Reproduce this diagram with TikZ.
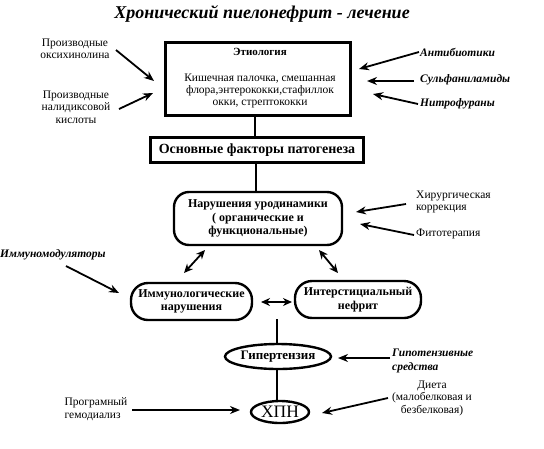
\documentclass[tikz,border=0pt]{standalone}
\usepackage{fontspec}
\setmainfont{Liberation Serif}
\usetikzlibrary{arrows.meta,shapes.geometric}
\begin{document}
\begin{tikzpicture}[x=1pt,y=-1pt,
  txt/.style={font=\fontsize{11.5}{12.5}\selectfont, align=center, inner sep=0pt},
  btxt/.style={font=\bfseries\itshape\fontsize{11.5}{13.5}\selectfont, align=left, inner sep=0pt},
  sqbox/.style={draw, align=center},
  rbox/.style={draw, line width=2.4pt, rounded corners=15pt, align=center, inner sep=0pt, font=\bfseries\fontsize{12}{13.5}\selectfont},
  ell/.style={draw, ellipse, line width=2.4pt, inner sep=0pt},
  arr/.style={line width=1.8pt, -{Stealth[length=10pt,width=8pt]}},
  darr/.style={line width=1.8pt, {Stealth[length=9pt,width=8pt]}-{Stealth[length=9pt,width=8pt]}},
  ln/.style={line width=2pt}]
\useasboundingbox (0,0) rectangle (544,448);
% title
\node[font=\bfseries\itshape\fontsize{18}{20}\selectfont] (title) at (262,14) {Хронический пиелонефрит - лечение};
% etiology box
\node[sqbox, line width=3pt, minimum width=185pt, minimum height=73pt] (etio) at (258,79) {};
\node[font=\bfseries\fontsize{11}{13}\selectfont] (etioh) at (260,52) {Этиология};
\node[txt, font=\fontsize{11.5}{12}\selectfont] (etiob) at (260,91) {Кишечная палочка, смешанная\\флора,энтерококки,стафиллок\\окки, стрептококки};
% factors
\node[sqbox, line width=2.6pt, minimum width=213pt, minimum height=25pt, font=\bfseries\fontsize{14}{16}\selectfont, inner sep=0pt] (fact) at (257,150) {Основные факторы патогенеза};
\coordinate (l1a) at (255,117);
\coordinate (l1b) at (255,136);
\draw[ln] (l1a) -- (l1b);
% urodynamics
\node[rbox, minimum width=168pt, minimum height=53pt] (uro) at (258,218.5) {Нарушения уродинамики\\( органические и\\функциональные)};
\coordinate (l2a) at (256,164);
\coordinate (l2b) at (256,191);
\draw[ln] (l2a) -- (l2b);
% immunologic, interstitial
\node[rbox, rounded corners=17pt, minimum width=121pt, minimum height=37pt] (imm) at (191.5,301.5) {Иммунологические\\нарушения};
\node[rbox, rounded corners=17pt, minimum width=126pt, minimum height=37pt] (int) at (358,299.5) {Интерстициальный\\нефрит};
\coordinate (ua1) at (205,250);
\coordinate (ua2) at (184,273);
\coordinate (ub1) at (319,250);
\coordinate (ub2) at (338,273);
\draw[darr] (ua1) -- (ua2);
\draw[darr] (ub1) -- (ub2);
\coordinate (ha) at (261,302);
\coordinate (hb) at (292,302);
\draw[darr] (ha) -- (hb);
% hypertension
\node[ell, minimum width=89pt, minimum height=25pt, font=\bfseries\fontsize{13}{14}\selectfont] (hyp) at (278,356.5) {Гипертензия};
\coordinate (vt) at (277,319);
\draw[ln] (vt) -- (vt |- hyp.north);
\node[ell, minimum width=58pt, minimum height=22pt, font=\fontsize{17.5}{17.5}\selectfont] (chpn) at (280,412) {ХПН};
\coordinate (vb) at (277,369);
\draw[ln] (vb) -- (vb |- chpn.north);
% left labels
\node[txt] (oks) at (75,49) {Производные\\оксихинолина};
\node[txt] (nal) at (76,107) {Производные\\налидиксовой\\кислоты};
\coordinate (s1) at (116,50);
\coordinate (e1) at (154,81);
\coordinate (s2) at (119,109);
\coordinate (e2) at (153,93);
\draw[arr] (s1) -- (e1);
\draw[arr] (s2) -- (e2);
% right labels
\node[btxt, anchor=west] (anti) at (420,52) {Антибиотики};
\node[btxt, anchor=west] (sulf) at (420,80) {Сульфаниламиды};
\node[btxt, anchor=west] (nitr) at (420,104) {Нитрофураны};
\coordinate (rs1) at (419,52);
\coordinate (r1) at (359,69);
\coordinate (rs2) at (414,81);
\coordinate (r2) at (367,81);
\coordinate (rs3) at (418,104);
\coordinate (r3) at (373,94);
\draw[arr] (rs1) -- (r1);
\draw[arr] (rs2) -- (r2);
\draw[arr] (rs3) -- (r3);
\node[txt, anchor=west, align=left] (hir) at (416,202) {Хирургическая\\коррекция};
\node[txt, anchor=west] (fit) at (416,234) {Фитотерапия};
\coordinate (hs) at (406,204);
\coordinate (u1) at (356,212);
\coordinate (fs) at (414,235);
\coordinate (u2) at (360,224);
\draw[arr] (hs) -- (u1);
\draw[arr] (fs) -- (u2);
\node[btxt, anchor=west] (immod) at (0,255) {Иммуномодуляторы};
\coordinate (ims) at (66,266);
\coordinate (ime) at (119,293);
\draw[arr] (ims) -- (ime);
\node[btxt, anchor=west] (hypot) at (392,361) {Гипотензивные\\средства};
\coordinate (hps) at (390,358);
\coordinate (hpe) at (338,358);
\draw[arr] (hps) -- (hpe);
\node[txt] (diet) at (432,398) {Диета\\(малобелковая и\\безбелковая)};
\coordinate (ds) at (388,398);
\coordinate (de) at (322,413);
\draw[arr] (ds) -- (de);
\node[txt, align=left] (gem) at (96,409) {Програмный\\гемодиализ};
\coordinate (gs) at (132,410);
\coordinate (ge) at (240,410);
\draw[arr] (gs) -- (ge);
\end{tikzpicture}
\end{document}
